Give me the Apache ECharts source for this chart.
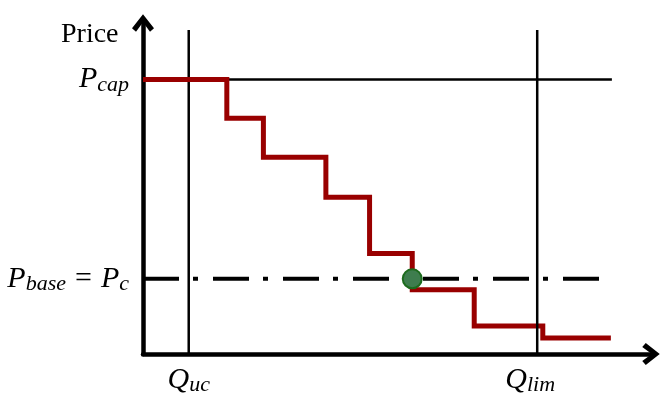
<!DOCTYPE html>
<html>
<head>
<meta charset="utf-8">
<script src="https://cdn.jsdelivr.net/npm/echarts@6/dist/echarts.min.js"></script>
<style>
html,body{margin:0;padding:0;background:#fff;}
#chart{width:664px;height:400px;}
</style>
</head>
<body>
<div id="chart"></div>
<script>
// ---- data (arbitrary quantity / price units) ----
var stepQ = [0, 16.5, 23.7, 36.0, 44.6, 53.0, 65.2, 78.7, 92.1];   // step boundaries
var stepP = [82.2, 70.6, 58.9, 46.9, 30.1, 19.2, 8.4, 4.8];         // price per step
var pCap = 82.2;
var pBase = 22.5;
var qUc = 9.0;
var qLim = 77.6;
var capLineEnd = 92.3;
var baseLineEnd = 89.8;
var vLineTop = 97.0;
var clearing = [53.0, 22.5];
var xTickValues = [qUc, qLim];
var xTickLabels = ['Q_uc', 'Q_lim'];
var yTickValues = [pBase, pCap];
var yTickLabels = ['P_base = P_c', 'P_cap'];
var yAxisTitle = 'Price';

function toRich(s) {
  return s.split(' ').map(function (tok) {
    if (tok === '=') return '{e|=}';
    var m = tok.match(/^(\w)_(\w+)$/);
    return m ? '{m|' + m[1] + '}{s|' + m[2] + '}' : '{m|' + tok + '}';
  }).join('');
}
function labelFor(values, labels, lastPad) {
  return function (v) {
    for (var i = 0; i < values.length; i++) {
      if (Math.abs(values[i] - v) < 1e-6) {
        var t = toRich(labels[i]);
        if (lastPad && i === values.length - 1) t += '{r|}';
        return t;
      }
    }
    return '';
  };
}
var rich = {
  m: {fontFamily: 'Liberation Serif', fontStyle: 'italic', fontSize: 30, lineHeight: 30, color: '#000'},
  s: {fontFamily: 'Liberation Serif', fontStyle: 'italic', fontSize: 22, lineHeight: 22, padding: [11, 0, 0, 0], color: '#000'},
  e: {fontFamily: 'Liberation Serif', fontSize: 30, lineHeight: 30, color: '#000', padding: [0, 9, 0, 9]},
  r: {width: 14, lineHeight: 10}
};

var stepData = [];
for (var i = 0; i < stepP.length; i++) stepData.push([stepQ[i], stepP[i]]);
stepData.push([stepQ[stepQ.length - 1], stepP[stepP.length - 1]]);

var arrowPath = 'path://M0,14 L11,0 L22,14 L18,17.5 L11,8 L4,17.5 Z';

var chart = echarts.init(document.getElementById('chart'));
chart.setOption({
  animation: false,
  backgroundColor: '#fff',
  title: {
    text: yAxisTitle, left: 61, top: 21, padding: 0,
    textStyle: {fontFamily: 'Liberation Serif', fontSize: 28, fontWeight: 'normal', color: '#000'}
  },
  grid: {left: 143, top: 20, width: 508, height: 334},
  xAxis: {
    type: 'value', min: 0, max: 100,
    splitLine: {show: false}, axisTick: {show: false},
    axisLine: {show: true, lineStyle: {color: '#000', width: 4.5}, symbol: ['none', arrowPath], symbolSize: [22, 17.5]},
    axisLabel: {customValues: xTickValues, formatter: labelFor(xTickValues, xTickLabels, true), rich: rich, margin: 11}
  },
  yAxis: {
    type: 'value', min: 0, max: 100,
    splitLine: {show: false}, axisTick: {show: false},
    axisLine: {show: true, lineStyle: {color: '#000', width: 4.5}, symbol: ['none', arrowPath], symbolSize: [22, 17.5], symbolOffset: [0, -3]},
    axisLabel: {customValues: yTickValues, formatter: labelFor(yTickValues, yTickLabels, false), rich: rich, margin: 14}
  },
  series: [
    {type: 'line', data: [[qUc, 0], [qUc, vLineTop]], symbol: 'none', z: 2,
     lineStyle: {color: '#000', width: 2.5}},
    {type: 'line', data: [[qLim, 0], [qLim, vLineTop]], symbol: 'none', z: 4,
     lineStyle: {color: '#000', width: 2.5}},
    {type: 'line', data: [[0, pCap], [capLineEnd, pCap]], symbol: 'none', z: 2,
     lineStyle: {color: '#000', width: 2.5}},
    {type: 'line', data: stepData, step: 'end', symbol: 'none', z: 3,
     lineStyle: {color: '#990000', width: 5, cap: 'butt', join: 'miter'}},
    {type: 'line', data: [[0, pBase], [baseLineEnd, pBase]], symbol: 'none', z: 5,
     lineStyle: {color: '#000', width: 4, type: [36, 14, 5, 15], cap: 'butt'}},
    {type: 'scatter', data: [clearing], symbolSize: 19, z: 6,
     itemStyle: {color: '#3e7d4e', borderColor: '#1d6b1d', borderWidth: 2, opacity: 1}}
  ]
});
</script>
</body>
</html>
